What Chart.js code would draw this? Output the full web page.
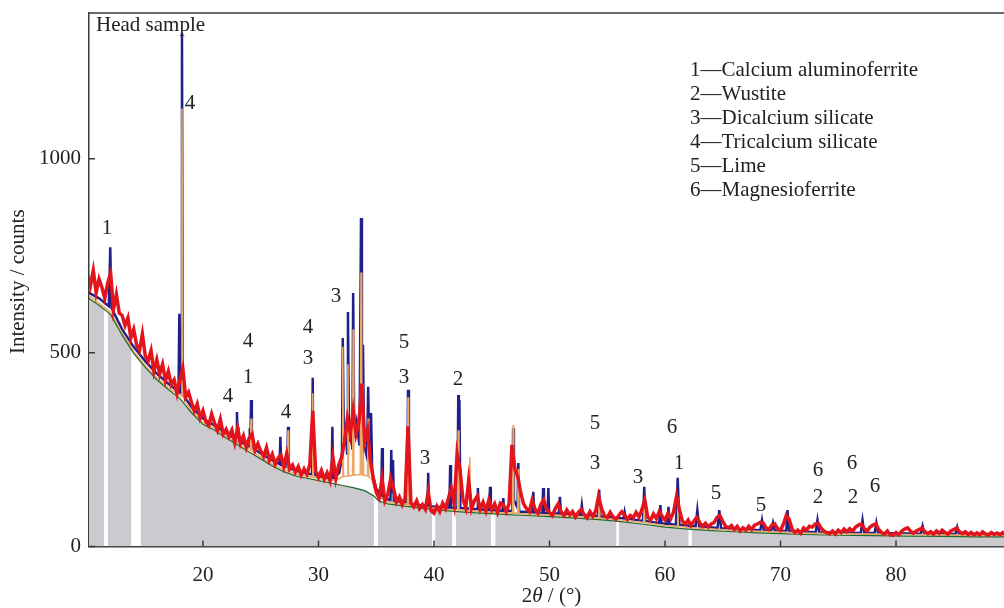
<!DOCTYPE html>
<html>
<head>
<meta charset="utf-8">
<title>Head sample XRD</title>
<script src="https://cdn.jsdelivr.net/npm/chart.js@4.4.1/dist/chart.umd.min.js"></script>
<style>
  body { margin: 0; background: #fff; }
  canvas { display: block; }
</style>
</head>
<body>
<canvas id="xrd" width="1004" height="608"></canvas>
<script>
// measured scan: counts every 0.25 deg starting at 10 deg
const scanStart = 10;
const scanStep = 0.25;
const measuredCounts = [
    700, 672, 712, 655,
    690, 668, 640, 680,
    705, 612, 650, 602,
    596, 570, 590, 538,
    560, 520, 505, 548,
    492, 478, 505, 452,
    482, 445, 470, 428,
    452, 418, 430, 395,
    430, 460, 385, 398,
    372, 350, 368, 332,
    350, 322, 312, 342,
    318, 300, 328, 290,
    302, 284, 300, 268,
    305, 266, 285, 256,
    280, 290, 248, 265,
    246, 232, 255, 222,
    238, 212, 228, 236,
    206, 240, 200, 210,
    192, 206, 184, 200,
    186, 212, 350, 195,
    178, 196, 174, 190,
    170, 230, 175, 210,
    230, 270, 330, 290,
    350, 290, 320, 420,
    270, 300, 220, 175,
    140, 125, 175, 118,
    135, 175, 150, 115,
    128, 108, 125, 310,
    112, 102, 118, 98,
    108, 96, 140, 92,
    86, 104, 90, 112,
    98, 125, 150, 110,
    240, 200, 122, 100,
    170, 98, 118, 130,
    96, 114, 92, 120,
    95, 110, 88, 112,
    108, 90, 110, 262,
    200, 180, 140, 110,
    98, 90, 120, 96,
    86, 108, 120, 96,
    88, 80, 98, 110,
    90, 80, 94, 82,
    90, 76, 88, 96,
    82, 74, 90, 78,
    92, 130, 98, 80,
    74, 88, 76, 70,
    80, 90, 82, 70,
    80, 74, 88, 76,
    95, 120, 76, 68,
    84, 72, 90, 78,
    68, 85, 72, 90,
    130, 95, 66, 58,
    68, 54, 66, 75,
    62, 52, 60, 50,
    58, 62, 75, 80,
    65, 52, 48, 54,
    44, 52, 40, 48,
    42, 52, 44, 55,
    58, 62, 60, 48,
    44, 55, 58, 46,
    42, 58, 80, 70,
    45, 36, 42, 34,
    48, 42, 52, 50,
    58, 60, 48, 40,
    36, 33, 40, 32,
    42, 36, 45, 38,
    46, 40, 50, 55,
    58, 46, 40, 50,
    55, 58, 44, 36,
    32, 40, 30, 29,
    36, 30, 40, 45,
    48, 40, 34, 40,
    44, 48, 38, 33,
    38, 32, 40, 34,
    42, 36, 32, 40,
    44, 48, 38, 33,
    38, 31, 36, 30,
    35, 30, 38, 32,
    29, 36, 31, 35,
    30, 36, 32
];

// fitted profile [2theta, counts]
const fittedProfile = [
    [10.1, 655], [11, 640], [11.85, 620], [11.97, 772], [12.08, 615], [13, 560], [14, 515],
    [15, 478], [16, 446], [17, 420], [17.88, 400], [17.95, 600], [18.02, 398], [18.11, 396],
    [18.18, 1325], [18.25, 392], [19, 360], [20, 330], [21, 312], [22, 292], [22.87, 276],
    [22.94, 347], [23.0, 290], [23.05, 308], [23.12, 272], [24.0, 258], [24.05, 305], [24.1, 262],
    [24.16, 378], [24.23, 256], [25, 240], [26, 222], [26.63, 212], [26.7, 283], [26.77, 210],
    [27.29, 205], [27.36, 309], [27.43, 203], [28, 196], [29, 188], [29.43, 186], [29.5, 435],
    [29.55, 200], [29.6, 244], [29.67, 185], [30, 182], [31.13, 176], [31.2, 309], [31.27, 175],
    [31.8, 190], [32.03, 230], [32.1, 538], [32.2, 260], [32.35, 300], [32.48, 240], [32.55, 605],
    [32.65, 270], [32.8, 300], [32.93, 250], [33.0, 654], [33.1, 280], [33.3, 320], [33.55, 260],
    [33.68, 847], [33.76, 300], [33.85, 520], [33.95, 260], [34.2, 230], [34.3, 412], [34.4, 240],
    [34.48, 225], [34.55, 344], [34.65, 190], [35, 150], [35.43, 130], [35.5, 254], [35.57, 125],
    [36, 122], [36.23, 120], [36.3, 249], [36.37, 140], [36.45, 223], [36.52, 118], [37, 116],
    [37.68, 114], [37.75, 404], [37.83, 112], [38.5, 108], [39.43, 105], [39.5, 190], [39.57, 104],
    [40.5, 102], [41.33, 100], [41.4, 210], [41.47, 100], [42.03, 100], [42.1, 391], [42.15, 300],
    [42.2, 378], [42.28, 99], [43, 98], [43.73, 96], [43.8, 151], [43.87, 96], [44.78, 94],
    [44.85, 154], [44.92, 94], [45.93, 92], [46.0, 125], [46.07, 92], [46.78, 92], [46.85, 305],
    [46.92, 120], [47.23, 100], [47.3, 215], [47.37, 90], [48.53, 88], [48.6, 141], [48.67, 88],
    [49.38, 87], [49.45, 151], [49.52, 87], [49.83, 86], [49.9, 151], [49.97, 86], [50.8, 85],
    [50.9, 128], [51.0, 85], [52.7, 82], [52.8, 107], [52.9, 82], [54.2, 78], [54.3, 146],
    [54.4, 78], [56.4, 72], [56.5, 89], [56.6, 72], [58.1, 66], [58.2, 154], [58.3, 66],
    [59.5, 60], [59.6, 107], [59.7, 60], [60.2, 58], [60.3, 102], [60.4, 58], [60.95, 56],
    [61.1, 177], [61.25, 56], [62.65, 52], [62.8, 94], [62.95, 52], [64.55, 48], [64.7, 94],
    [64.85, 47], [68.25, 42], [68.4, 68], [68.55, 42], [69.2, 41], [69.35, 61], [69.5, 41],
    [70.5, 40], [70.6, 94], [70.75, 40], [73.05, 37], [73.2, 68], [73.35, 37], [76.95, 35],
    [77.1, 68], [77.25, 35], [78.15, 35], [78.3, 61], [78.45, 35], [82.15, 33], [82.3, 53],
    [82.45, 33], [85.15, 32], [85.3, 50], [85.45, 32], [89.4, 32]
];

// main-phase contribution [2theta, counts]
const phaseProfile = [
    [10.1, 648], [11, 628], [12, 604], [13, 550], [14, 503], [15, 467], [16, 435], [17, 410],
    [18.11, 388], [18.18, 1130], [18.25, 386], [19, 350], [20, 320], [21, 305], [22, 285],
    [22.88, 268], [22.94, 300], [23.0, 266], [24, 250], [24.1, 249], [24.16, 330], [24.22, 247],
    [25, 231], [26, 213], [27, 198], [27.3, 195], [27.36, 300], [27.42, 194], [28, 187], [29, 181],
    [29.45, 179], [29.5, 395], [29.56, 178], [30, 176], [31, 170], [31.8, 175], [32.05, 180],
    [32.1, 515], [32.16, 180], [32.5, 182], [32.55, 470], [32.6, 182], [32.95, 184], [33.0, 560],
    [33.06, 184], [33.3, 185], [33.62, 185], [33.68, 707], [33.74, 185], [33.8, 185], [33.85, 420],
    [33.9, 184], [34.25, 182], [34.3, 330], [34.35, 180], [34.6, 175], [35, 135], [36, 115],
    [37, 110], [37.7, 108], [37.75, 385], [37.8, 107], [39, 101], [40, 99], [41, 96], [42.05, 95],
    [42.1, 300], [42.16, 94], [43.05, 92], [43.1, 230], [43.16, 92], [44, 90], [45, 88], [46, 87],
    [46.8, 86], [46.85, 313], [46.9, 86], [47.25, 86], [47.3, 200], [47.35, 85], [48, 84],
    [50, 81], [52, 78], [54.25, 74], [54.3, 115], [54.35, 73], [56, 69], [58.15, 62], [58.2, 110],
    [58.25, 62], [60, 54], [61.05, 52], [61.1, 120], [61.15, 52], [62, 49], [64, 45], [66, 42],
    [68, 39], [70, 37], [72, 35], [75, 33], [78, 32], [81, 31], [84, 30], [87, 29], [89.4, 29]
];

// background curve
const bgAngles = [
    10.1, 11, 12, 13, 14, 15, 16, 17, 18, 19, 20, 21, 22, 23, 24, 25, 26, 27, 28, 29, 30,
    31, 32, 33, 34, 34.8, 35.2, 36, 38, 40, 42, 44, 46, 48, 50, 52, 54, 56, 58, 60, 62,
    64, 66, 68, 70, 72, 75, 78, 81, 84, 87, 89.4
];
const bgCounts = [
    640, 622, 598, 545, 498, 462, 430, 405, 382, 345, 315, 300, 280, 262, 244, 226, 208, 193, 182, 176, 170,
    164, 158, 152, 144, 130, 118, 110, 102, 95, 90, 86, 83, 80, 77, 74, 70, 65, 58, 50, 45,
    41, 38, 35, 33, 31, 29, 28, 27, 26, 25, 25
];

// shaded background, null marks the excluded ranges
const shadedBackground = [
    [10.1, 640], [11, 622], [11.45, 611], [11.6, null], [11.75, 604], [12, 598], [13, 545],
    [13.8, 508], [14.2, null], [14.6, 478], [15, 462], [16, 430], [17, 405], [18, 382], [19, 345],
    [20, 315], [21, 300], [22, 280], [23, 262], [24, 244], [25, 226], [26, 208], [27, 193],
    [28, 182], [29, 176], [30, 170], [31, 164], [32, 158], [33, 152], [34, 144], [34.8, 130],
    [35, null], [35.15, 119], [36, 110], [38, 102], [39.85, 95], [40, null], [40.1, 95],
    [41.6, 91], [41.75, null], [41.9, 90], [44, 86], [44.95, 84], [45.15, null], [45.3, 84],
    [46, 83], [48, 80], [50, 77], [52, 74], [54, 70], [55.8, 66], [55.9, null], [56, 65],
    [58, 58], [60, 50], [62.05, 45], [62.2, null], [62.3, 45], [64, 41], [66, 38], [68, 35],
    [70, 33], [72, 31], [75, 29], [78, 28], [81, 27], [84, 26], [87, 25], [89.4, 25]
];

// phase markers above the peaks
const markAngles = [11.69, 18.87, 22.16, 23.9, 23.9, 27.19, 29.09, 29.09, 31.52, 37.4, 37.4, 39.22,
    42.08, 53.94, 53.94, 57.66, 60.61, 61.21, 64.42, 68.31, 73.25, 73.25, 76.19, 76.28, 78.18];
const markCounts = [819, 1142, 386, 528, 435, 346, 564, 486, 646, 525, 437, 226,
    430, 316, 215, 177, 308, 215, 138, 107, 197, 126, 213, 126, 154];
const markPhases = ['1', '4', '4', '4', '1', '4', '4', '3', '3', '5', '3', '3',
    '2', '5', '3', '3', '6', '1', '5', '5', '6', '2', '6', '2', '6'];

const phaseNames = [
    '1\u2014Calcium aluminoferrite',
    '2\u2014Wustite',
    '3\u2014Dicalcium silicate',
    '4\u2014Tricalcium silicate',
    '5\u2014Lime',
    '6\u2014Magnesioferrite'
];

const xTicks = [20, 30, 40, 50, 60, 70, 80];
const yTicks = [0, 500, 1000];

const serif = "'Liberation Serif', 'Times New Roman', serif";
const inkColor = '#222';
const axisColor = '#3a3a3a';

const pairsToPoints = pairs => pairs.map(p => ({ x: p[0], y: p[1] }));

const measuredPoints = measuredCounts.map((c, i) => ({ x: scanStart + i * scanStep, y: c }));
const bgPoints = bgAngles.map((a, i) => ({ x: a, y: bgCounts[i] }));

// frame, inward ticks, titles, markers and the phase list
const decorations = {
    id: 'decorations',
    afterDraw(chart) {
        const { ctx, chartArea: area, scales: { x, y } } = chart;
        ctx.save();
        ctx.strokeStyle = axisColor;
        ctx.lineWidth = 1.5;
        ctx.beginPath();
        ctx.moveTo(area.left, area.top);
        ctx.lineTo(area.right, area.top);
        xTicks.forEach(v => {
            const px = x.getPixelForValue(v);
            ctx.moveTo(px, area.bottom);
            ctx.lineTo(px, area.bottom - 6);
        });
        yTicks.forEach(v => {
            const py = y.getPixelForValue(v);
            ctx.moveTo(area.left, py);
            ctx.lineTo(area.left + 6, py);
        });
        ctx.stroke();

        ctx.fillStyle = inkColor;
        ctx.font = '21px ' + serif;
        ctx.textBaseline = 'middle';

        ctx.textAlign = 'center';
        markPhases.forEach((t, i) => {
            ctx.fillText(t, x.getPixelForValue(markAngles[i]), y.getPixelForValue(markCounts[i]));
        });

        ctx.textAlign = 'left';
        ctx.fillText('Head sample', area.left + 7, area.top + 12);
        phaseNames.forEach((t, i) => {
            ctx.fillText(t, area.left + 601, area.top + 57 + i * 24);
        });

        // y title
        ctx.save();
        ctx.translate(18, (area.top + area.bottom) / 2 + 2);
        ctx.rotate(-Math.PI / 2);
        ctx.textAlign = 'center';
        ctx.fillText('Intensity / counts', 0, 0);
        ctx.restore();

        // x title with italic theta
        const parts = [['2', '21px ' + serif], ['\u03b8', 'italic 21px ' + serif], [' / (\u00b0)', '21px ' + serif]];
        let total = 0;
        parts.forEach(p => { ctx.font = p[1]; total += ctx.measureText(p[0]).width; });
        let tx = (area.left + area.right) / 2 + 5 - total / 2;
        parts.forEach(p => {
            ctx.font = p[1];
            ctx.fillText(p[0], tx, 596);
            tx += ctx.measureText(p[0]).width;
        });
        ctx.restore();
    }
};

new Chart(document.getElementById('xrd'), {
    type: 'line',
    data: {
        datasets: [
            {
                label: 'Measured',
                data: measuredPoints,
                borderColor: '#e3141b',
                borderWidth: 3.5,
                borderJoinStyle: 'miter',
                fill: false
            },
            {
                label: 'Background',
                data: bgPoints,
                borderColor: '#1f6a2a',
                borderWidth: 1.2,
                fill: false
            },
            {
                label: 'Phase',
                data: pairsToPoints(phaseProfile),
                borderColor: '#eca866',
                borderWidth: 1.6,
                fill: false
            },
            {
                label: 'Fitted',
                data: pairsToPoints(fittedProfile),
                borderColor: '#20208c',
                borderWidth: 2.5,
                fill: false
            },
            {
                label: 'Shaded',
                data: pairsToPoints(shadedBackground),
                borderColor: 'rgba(0,0,0,0)',
                borderWidth: 0,
                backgroundColor: '#cbcbcf',
                fill: 'origin',
                spanGaps: false
            }
        ]
    },
    options: {
        responsive: false,
        animation: false,
        devicePixelRatio: 1,
        layout: { padding: { top: 13, left: 0, right: 0, bottom: 0 } },
        elements: { point: { radius: 0 }, line: { tension: 0 } },
        plugins: { legend: { display: false }, tooltip: { enabled: false } },
        scales: {
            x: {
                type: 'linear',
                min: 10.13,
                max: 89.35,
                afterBuildTicks: s => { s.ticks = xTicks.map(v => ({ value: v })); },
                afterFit: s => { s.height = 61.5; s.paddingLeft = 0; s.paddingRight = 0; },
                grid: { display: false },
                border: { display: true, color: axisColor, width: 1.5 },
                ticks: { color: inkColor, font: { family: serif, size: 21 }, padding: 8, maxRotation: 0,
                    callback: v => String(v) }
            },
            y: {
                min: 0,
                max: 1376,
                afterBuildTicks: s => { s.ticks = yTicks.map(v => ({ value: v })); },
                afterFit: s => { s.width = 89; s.paddingTop = 0; s.paddingBottom = 0; },
                grid: { display: false, drawTicks: false },
                border: { display: true, color: axisColor, width: 1.5 },
                ticks: { color: inkColor, font: { family: serif, size: 21 }, padding: 8,
                    callback: v => String(v) }
            }
        }
    },
    plugins: [decorations]
});
</script>
</body>
</html>
